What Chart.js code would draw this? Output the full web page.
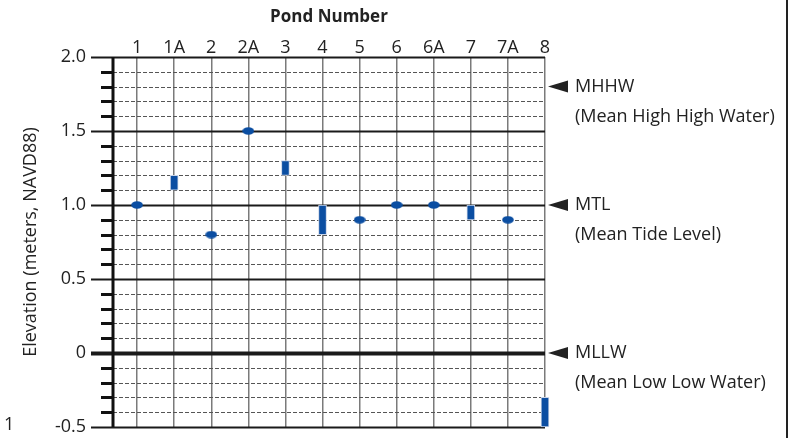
<!DOCTYPE html>
<html>
<head>
<meta charset="utf-8">
<script src="https://cdn.jsdelivr.net/npm/chart.js@4"></script>
<style>
  html, body { margin: 0; padding: 0; background: #fff; overflow: hidden; }
  #wrap { position: relative; width: 802px; height: 438px; }
</style>
</head>
<body>
<div id="wrap"><canvas id="pond-chart"></canvas></div>
<script>
const ponds = ['1', '1A', '2', '2A', '3', '4', '5', '6', '6A', '7', '7A', '8'];
const elevLow = [1.0, 1.1, 0.8, 1.5, 1.2, 0.8, 0.9, 1.0, 1.0, 0.9, 0.9, -0.5];
const elevHigh = [1.0, 1.2, 0.8, 1.5, 1.3, 1.0, 0.9, 1.0, 1.0, 1.0, 0.9, -0.3];
const yTicks = [-0.5, 0, 0.5, 1.0, 1.5, 2.0];
const yTickLabels = ['-0.5', '0', '0.5', '1.0', '1.5', '2.0'];
const tideNames = ['MHHW', 'MTL', 'MLLW'];
const tideDesc = ['(Mean High High Water)', '(Mean Tide Level)', '(Mean Low Low Water)'];
const tideElev = [1.8, 1.0, 0];

const BLUE = '#0b4ea2';
const FONT = '"Open Sans", Lato, sans-serif';

// ranges become floating bars, single readings become dots
const rangeData = [];
const pointData = [];
ponds.forEach((p, i) => {
    if (elevLow[i] === elevHigh[i]) {
        pointData.push({ x: i, y: elevLow[i] });
    } else {
        rangeData.push({ x: i, y: [elevLow[i], elevHigh[i]] });
    }
});

// oval marker
const dot = document.createElement('canvas');
dot.width = 12; dot.height = 8;
const dctx = dot.getContext('2d');
dctx.fillStyle = BLUE;
dctx.beginPath();
dctx.ellipse(6, 4, 5.8, 3.8, 0, 0, Math.PI * 2);
dctx.fill();

// dashed minor grid, major lines and left tick marks
const gridPlugin = {
    id: 'elevGrid',
    beforeDatasetsDraw(chart) {
        const { ctx, chartArea, scales } = chart;
        const y = scales.y;
        ctx.save();
        for (let k = -5; k <= 20; k++) {
            const v = k / 10;
            const py = Math.round(y.getPixelForValue(v)) + 0.5;
            const major = k % 5 === 0;
            ctx.beginPath();
            if (major) {
                ctx.setLineDash([]);
                ctx.strokeStyle = '#1a1a1a';
                ctx.lineWidth = k === 0 ? 4 : 2;
                ctx.moveTo(chartArea.left - 22, py);
            } else {
                ctx.setLineDash([4, 2]);
                ctx.strokeStyle = '#555';
                ctx.lineWidth = 1;
                ctx.moveTo(chartArea.left, py);
            }
            ctx.lineTo(chartArea.right, py);
            ctx.stroke();
            if (!major) {
                ctx.setLineDash([]);
                ctx.strokeStyle = '#111';
                ctx.lineWidth = 3;
                ctx.beginPath();
                ctx.moveTo(chartArea.left - 12, py);
                ctx.lineTo(chartArea.left, py);
                ctx.stroke();
            }
        }
        // left axis
        ctx.setLineDash([]);
        ctx.strokeStyle = '#111';
        ctx.lineWidth = 3;
        ctx.beginPath();
        ctx.moveTo(chartArea.left, chartArea.top);
        ctx.lineTo(chartArea.left, chartArea.bottom);
        ctx.stroke();
        ctx.restore();
    },
    afterDraw(chart) {
        const { ctx, chartArea, scales } = chart;
        ctx.save();
        ctx.fillStyle = '#222';
        ctx.font = '18px ' + FONT;
        ctx.textBaseline = 'middle';
        tideNames.forEach((name, i) => {
            const py = scales.y.getPixelForValue(tideElev[i]);
            const tx = chartArea.right + 3;
            ctx.beginPath();
            ctx.moveTo(tx, py);
            ctx.lineTo(tx + 20, py - 6);
            ctx.lineTo(tx + 20, py + 6);
            ctx.closePath();
            ctx.fill();
            ctx.fillText(name, tx + 27, py);
            ctx.fillText(tideDesc[i], tx + 27, py + 30);
        });
        // frame edge and stray page mark
        ctx.strokeStyle = '#222';
        ctx.lineWidth = 2;
        ctx.beginPath();
        ctx.moveTo(787, 0);
        ctx.lineTo(787, chart.height);
        ctx.stroke();
        ctx.fillText('1', 4, 425);
        ctx.restore();
    }
};

const ctx = document.getElementById('pond-chart').getContext('2d');
const chart = new Chart(ctx, {
    type: 'bar',
    data: {
        datasets: [{
            type: 'bar',
            data: rangeData,
            backgroundColor: BLUE,
            borderColor: '#c9d4e8',
            borderWidth: 1,
            borderSkipped: false,
            barThickness: 8,
            grouped: false,
            clip: false
        }, {
            type: 'scatter',
            data: pointData,
            pointStyle: dot,
            clip: false
        }]
    },
    plugins: [gridPlugin],
    options: {
        responsive: true,
        maintainAspectRatio: false,
        animation: false,
        layout: { padding: { left: 0, top: 0, right: 257, bottom: 11 } },
        plugins: {
            legend: { display: false },
            tooltip: { enabled: false }
        },
        scales: {
            x: {
                type: 'linear',
                position: 'top',
                offset: false,
                min: -0.65,
                max: 11,
                afterBuildTicks: scale => {
                    scale.ticks = ponds.map((p, i) => ({ value: i }));
                },
                afterFit: scale => {
                    scale.height = 57;
                    scale.paddingLeft = 0;
                    scale.paddingRight = 0;
                },
                ticks: {
                    padding: -2,
                    color: '#222',
                    font: { family: FONT, size: 18 },
                    callback: v => ponds[v]
                },
                grid: { color: '#7a7a7a', lineWidth: 1.5, drawTicks: false, offset: false },
                border: { display: false },
                title: {
                    display: true,
                    text: 'Pond Number',
                    color: '#222',
                    font: { family: FONT, size: 17, weight: 'bold' },
                    padding: { top: 7, bottom: 0 }
                }
            },
            y: {
                type: 'linear',
                min: -0.5,
                max: 2.0,
                afterBuildTicks: scale => {
                    scale.ticks = yTicks.map(v => ({ value: v }));
                },
                afterFit: scale => {
                    scale.width = 113;
                    scale.paddingTop = 0;
                    scale.paddingBottom = 0;
                },
                ticks: {
                    padding: 27,
                    color: '#222',
                    font: { family: FONT, size: 18 },
                    callback: v => yTickLabels[yTicks.indexOf(v)]
                },
                grid: { display: false, drawTicks: false },
                border: { display: false },
                title: {
                    display: true,
                    text: 'Elevation (meters, NAVD88)',
                    color: '#222',
                    font: { family: FONT, size: 18 },
                    padding: { top: 20, bottom: 0 }
                }
            }
        }
    }
});
</script>
</body>
</html>
